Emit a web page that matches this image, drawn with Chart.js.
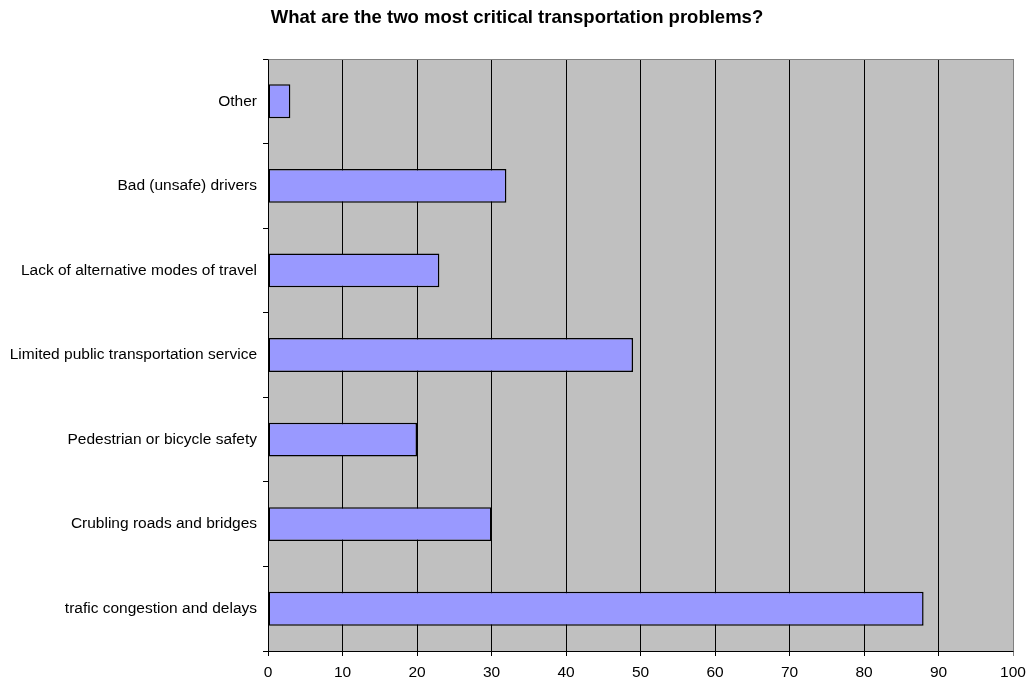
<!DOCTYPE html>
<html>
<head>
<meta charset="utf-8">
<script src="https://cdn.jsdelivr.net/npm/chart.js@4/dist/chart.umd.min.js"></script>
<style>
  html, body { margin: 0; padding: 0; background: #fff; }
  #wrap { width: 1027px; height: 681px; }
</style>
</head>
<body>
<div id="wrap"><canvas id="c" width="1027" height="681"></canvas></div>
<script>
const categories = [
  "Other",
  "Bad (unsafe) drivers",
  "Lack of alternative modes of travel",
  "Limited public transportation service",
  "Pedestrian or bicycle safety",
  "Crubling roads and bridges",
  "trafic congestion and delays"
];
const values = [3, 32, 23, 49, 20, 30, 88];
const xMin = 0, xMax = 100, xStep = 10;
const titleText = "What are the two most critical transportation problems?";

const FONT = 'Liberation Sans, Arial, sans-serif';

const plotBg = {
  id: 'plotBg',
  beforeDraw(chart) {
    const {ctx, chartArea: a} = chart;
    ctx.save();
    ctx.fillStyle = '#c0c0c0';
    ctx.fillRect(a.left, a.top, a.right - a.left, a.bottom - a.top);
    ctx.restore();
  },
  afterDatasetsDraw(chart) {
    const {ctx, chartArea: a} = chart;
    ctx.save();
    ctx.strokeStyle = '#808080';
    ctx.lineWidth = 1;
    ctx.beginPath();
    ctx.moveTo(Math.round(a.left) + 0.5, Math.round(a.top) + 0.5);
    ctx.lineTo(Math.round(a.right) + 0.5, Math.round(a.top) + 0.5);
    ctx.lineTo(Math.round(a.right) + 0.5, Math.round(a.bottom) + 0.5);
    ctx.stroke();
    ctx.restore();
  },
  afterDraw(chart) {
    const {ctx} = chart;
    ctx.save();
    ctx.fillStyle = '#000';
    ctx.font = 'bold 18.5px ' + FONT;
    ctx.textAlign = 'center';
    ctx.textBaseline = 'alphabetic';
    ctx.fillText(titleText, 517, 23);
    ctx.restore();
  }
};

new Chart(document.getElementById('c'), {
  type: 'bar',
  data: {
    labels: categories,
    datasets: [{
      data: values,
      backgroundColor: '#9999ff',
      borderColor: '#000000',
      borderWidth: 1.5,
      borderSkipped: false,
      barPercentage: 0.4,
      categoryPercentage: 1
    }]
  },
  options: {
    indexAxis: 'y',
    responsive: false,
    animation: false,
    layout: { padding: { left: 0, right: 14, top: 59, bottom: 0 } },
    plugins: {
      legend: { display: false },
      tooltip: { enabled: false },
      title: { display: false }
    },
    scales: {
      x: {
        min: xMin, max: xMax,
        ticks: {
          stepSize: xStep,
          color: '#000',
          padding: 7,
          font: { family: FONT, size: 15.5 }
        },
        grid: {
          color: (c) => (c.tick && c.tick.value === xMax) ? '#808080' : '#000',
          lineWidth: 1,
          tickLength: 5,
          drawOnChartArea: true
        },
        border: { color: '#000', width: 1 },
        afterFit(s) { s.height = 30; s.paddingLeft = 0; s.paddingRight = 0; }
      },
      y: {
        ticks: {
          color: '#000',
          padding: 6,
          font: { family: FONT, size: 15.5 }
        },
        grid: {
          offset: true,
          drawOnChartArea: false,
          color: '#000',
          tickLength: 5
        },
        border: { color: '#000', width: 1 },
        afterFit(s) { s.width = 268; s.paddingTop = 0; s.paddingBottom = 0; }
      }
    }
  },
  plugins: [plotBg]
});
</script>
</body>
</html>
